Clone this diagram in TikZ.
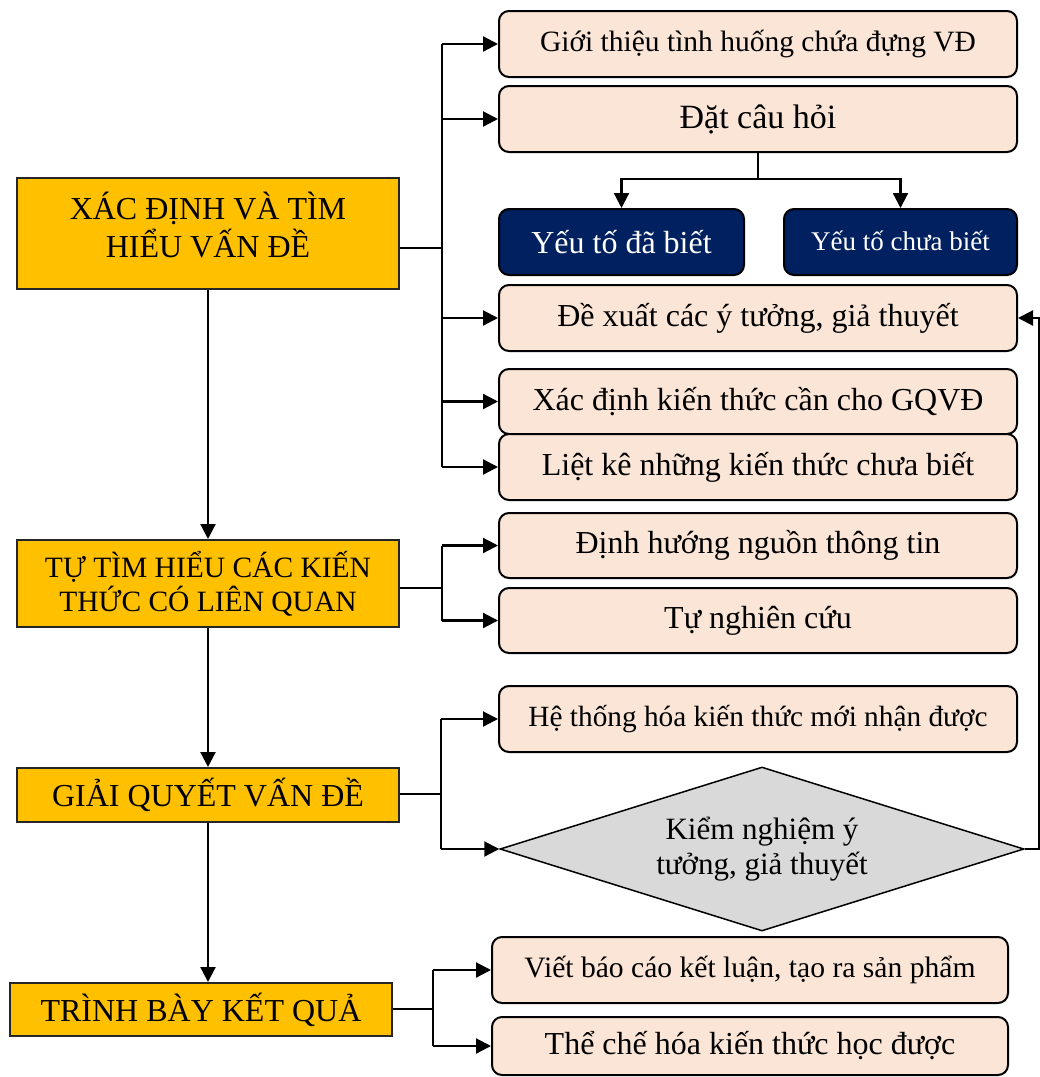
\documentclass[tikz,border=0pt]{standalone}
\usepackage{fontspec}
\setmainfont{Liberation Serif}
\usetikzlibrary{arrows.meta,shapes.geometric}

\definecolor{phasegold}{HTML}{FFC000}
\definecolor{peach}{HTML}{FBE5D6}
\definecolor{navy}{HTML}{002060}
\definecolor{greyfill}{HTML}{D9D9D9}
\newcommand{\pxsize}[2]{\fontsize{#1pt}{#2pt}\selectfont}

\tikzset{
  phase/.style={draw=black!85, line width=2pt, fill=phasegold, align=center,
    inner sep=0pt, minimum width=382pt},
  task/.style={draw=black, line width=2pt, fill=peach, rounded corners=10pt,
    minimum width=518pt, minimum height=66pt, inner sep=0pt, align=center,
    font=\pxsize{32}{36}},
  known/.style={task, fill=navy, text=white},
  check/.style={diamond, draw=black, line width=1.5pt, fill=greyfill, aspect=3.2,
    minimum width=524pt, minimum height=164pt, inner sep=0pt, align=center,
    font=\pxsize{31}{35}},
  link/.style={line width=2.2pt},
  stub/.style={line width=1.5pt},
  arr/.style={link, -{Triangle[length=15pt,width=15pt]}}
}

\begin{document}
\begin{tikzpicture}[x=1pt, y=-1pt]
  \useasboundingbox (0,0) rectangle (1040,1077);

  % main phases
  \node[phase, minimum height=111pt,
    label={[font=\pxsize{32}{38}, align=center, yshift=8pt]center:{XÁC ĐỊNH VÀ TÌM\\HIỂU VẤN ĐỀ}}]
    (A) at (208,233.5) {};
  \node[phase, minimum height=87pt, font=\pxsize{29.5}{34}] (B) at (208,583.5)
    {TỰ TÌM HIỂU CÁC KIẾN\\THỨC CÓ LIÊN QUAN};
  \node[phase, minimum height=54pt, font=\pxsize{32}{34}] (C) at (208,795)
    {GIẢI QUYẾT VẤN ĐỀ};
  \node[phase, minimum height=53pt, font=\pxsize{32}{34}] (D) at (201,1009.5)
    {TRÌNH BÀY KẾT QUẢ};

  % tasks of phase 1
  \node[task, font=\pxsize{29.5}{33}] (R1) at (758,44) {Giới thiệu tình huống chứa đựng VĐ};
  \node[task, font=\pxsize{34}{38}] (R2) at (758,119) {Đặt câu hỏi};
  \node[known, minimum width=245pt, font=\pxsize{32}{36}] (K1) at (621.5,242) {Yếu tố đã biết};
  \node[known, minimum width=233pt, font=\pxsize{27}{30}] (K2) at (900.5,242)
    {\raisebox{3pt}{Yếu tố chưa biết}};
  \node[task] (R3) at (758,318) {Đề xuất các ý tưởng, giả thuyết};
  \node[task, minimum height=65pt] (R4) at (758,401.5) {Xác định kiến thức cần cho GQVĐ};
  \node[task] (R5) at (758,467) {Liệt kê những kiến thức chưa biết};

  % tasks of phase 2
  \node[task, minimum height=65pt] (R6) at (758,545.5) {Định hướng nguồn thông tin};
  \node[task, minimum height=65pt] (R7) at (758,620.5) {Tự nghiên cứu};

  % tasks of phase 3
  \node[task, font=\pxsize{29.3}{32}] (R8) at (758,719) {Hệ thống hóa kiến thức mới nhận được};
  \node[check] (Dm) at (762,849) {Kiểm nghiệm ý\\tưởng, giả thuyết};

  % tasks of phase 4
  \node[task, minimum width=516pt, font=\pxsize{29.6}{33}] (R9) at (750,970)
    {Viết báo cáo kết luận, tạo ra sản phẩm};
  \node[task, minimum width=516pt, minimum height=58pt, font=\pxsize{32}{35}] (R10) at (750,1046)
    {Thể chế hóa kiến thức học được};

  % main flow
  \draw[arr] (A.south) -- (B.north);
  \draw[arr] (B.south) -- (C.north);
  \draw[arr] (C.south) -- (C.south |- D.north);

  % branch of phase 1
  \coordinate (t1) at (442,248);
  \draw[stub] ([yshift=-14.5pt]A.east) -- (t1);
  \draw[link] (t1 |- R1.west) -- (t1 |- R5.west);
  \foreach \r in {R1,R2,R3,R4,R5} \draw[arr] (t1 |- \r.west) -- (\r.west);

  % questions split
  \draw[link] (R2.south) -- ++(0,26) coordinate (sp);
  \draw[arr] (sp) -| (K1.north);
  \draw[arr] (sp) -| (K2.north);

  % branch of phase 2
  \coordinate (t2) at (442,588);
  \draw[stub] (B.east |- t2) -- (t2);
  \draw[link] (t2 |- R6.west) -- (t2 |- R7.west);
  \foreach \r in {R6,R7} \draw[arr] (t2 |- \r.west) -- (\r.west);

  % branch of phase 3
  \coordinate (t3) at (441,794);
  \draw[stub] (C.east |- t3) -- (t3);
  \draw[link] (t3 |- R8.west) -- (t3 |- Dm.west);
  \draw[arr] (t3 |- R8.west) -- (R8.west);
  \draw[arr] (t3 |- Dm.west) -- (Dm.west);

  % feedback from checking to hypotheses
  \draw[arr] (Dm.east) -- ++(14,0) |- (R3.east);

  % branch of phase 4
  \coordinate (t4) at (433,1009);
  \draw[stub] (D.east |- t4) -- (t4);
  \draw[link] (t4 |- R9.west) -- (t4 |- R10.west);
  \foreach \r in {R9,R10} \draw[arr] (t4 |- \r.west) -- (\r.west);
\end{tikzpicture}
\end{document}
